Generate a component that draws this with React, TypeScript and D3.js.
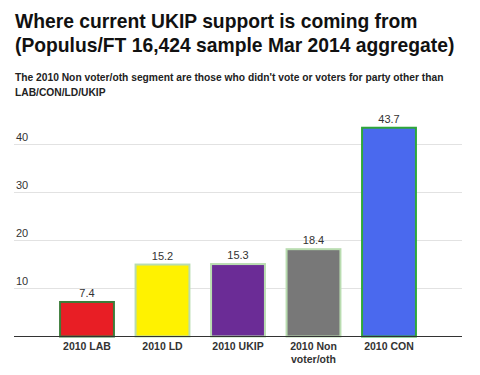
import React from "react";
import * as d3 from "d3";

const categories = ["2010 LAB", "2010 LD", "2010 UKIP", "2010 Non\nvoter/oth", "2010 CON"];
const values = [7.4, 15.2, 15.3, 18.4, 43.7];
const fills = ["#e81e25", "#fff200", "#6b2c96", "#787878", "#4a69ee"];
const strokes = ["#3c7d3a", "#b9dcb0", "#b9dcb0", "#b9dcb0", "#2ea63a"];
const yTicks = [10, 20, 30, 40];
const titleLines = ["Where current UKIP support is coming from", "(Populus/FT 16,424 sample Mar 2014 aggregate)"];
const subtitleLines = ["The 2010 Non voter/oth segment are those who didn't vote or voters for party other than", "LAB/CON/LD/UKIP"];

const FONT = "'Liberation Sans', Arial, Helvetica, sans-serif";

export default function App() {
  const W = 480, H = 375;
  const x = d3.scaleBand<string>().domain(categories).range([49.25, 426.75]).paddingInner(0.26).paddingOuter(0.13);
  const y = d3.scaleLinear().domain([0, 40]).range([336.5, 144.5]);
  const gridX0 = 14, gridX1 = 462;

  return (
    <svg width={W} height={H} style={{ position: "absolute", left: 0, top: 0, background: "#fff" }} fontFamily={FONT}>
      <rect x={0} y={0} width={W} height={H} fill="#fff" />
      {titleLines.map((t, i) => (
        <text key={t} x={15} y={28 + i * 24} fontSize={19.3} fontWeight="bold" fill="#111">{t}</text>
      ))}
      {subtitleLines.map((t, i) => (
        <text key={t} x={15} y={81 + i * 15} fontSize={10.25} fontWeight="bold" fill="#222">{t}</text>
      ))}
      {yTicks.map((t) => (
        <g key={t}>
          <line x1={gridX0} x2={gridX1} y1={y(t)} y2={y(t)} stroke="#e2e2e2" strokeWidth={1.2} />
          <text x={16} y={y(t) - 4} fontSize={11} fill="#333">{t}</text>
        </g>
      ))}
      {categories.map((c, i) => {
        const bx = x(c)!;
        const bw = x.bandwidth();
        const top = y(values[i]);
        return (
          <g key={c}>
            <rect x={bx + 1} y={top + 1} width={bw - 2} height={y(0) - top - 1} fill={fills[i]} stroke={strokes[i]} strokeWidth={2} />
            <text x={bx + bw / 2} y={top - 4} textAnchor="middle" fontSize={11} fill="#333">{values[i]}</text>
            {c.split("\n").map((ln, j) => (
              <text key={ln} x={bx + bw / 2} y={350 + j * 13} textAnchor="middle" fontSize={10.5} fontWeight="bold" fill="#333">{ln}</text>
            ))}
          </g>
        );
      })}
      <line x1={gridX0} x2={gridX1} y1={y(0)} y2={y(0)} stroke="#333" strokeWidth={1.2} />
    </svg>
  );
}
